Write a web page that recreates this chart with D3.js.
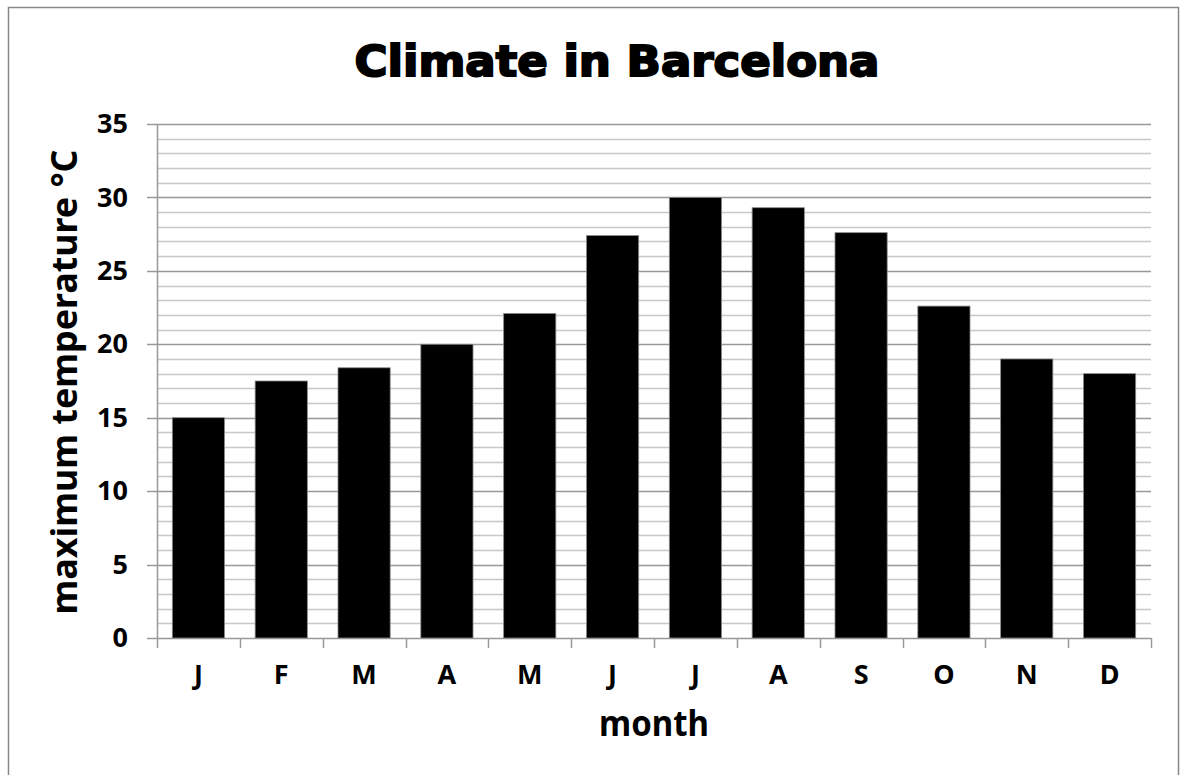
<!DOCTYPE html>
<html>
<head>
<meta charset="utf-8">
<script src="https://cdn.jsdelivr.net/npm/d3@7"></script>
<style>
  body { margin: 0; background: #fff; }
  .axis text { font-family: "Noto Sans", sans-serif; font-weight: bold; font-size: 27px; fill: #000; }
</style>
</head>
<body>
<svg class="chart" width="1180" height="775"></svg>
<script>
const months = ["J", "F", "M", "A", "M", "J", "J", "A", "S", "O", "N", "D"];
const maxTemp = [15, 17.5, 18.4, 20, 22.1, 27.4, 30, 29.3, 27.6, 22.6, 19, 18];
const yTicks = [0, 5, 10, 15, 20, 25, 30, 35];
const yMinor = d3.range(0, 36, 1);

const plotLeft = 157, plotRight = 1151, plotTop = 124, plotBottom = 638;

const svg = d3.select(".chart");

// frame
svg.append("rect")
    .attr("x", 8.5).attr("y", 7.5)
    .attr("width", 1170).attr("height", 800)
    .attr("fill", "none").attr("stroke", "#888").attr("stroke-width", 1.5);

const x = d3.scaleBand()
    .domain(d3.range(months.length))
    .range([plotLeft, plotRight])
    .paddingInner(0.37)
    .paddingOuter(0.185);

const xTicks = d3.scaleBand().domain(d3.range(months.length)).range([plotLeft, plotRight]);

const y = d3.scaleLinear().domain([0, 35]).range([plotBottom, plotTop]);

// minor gridlines
svg.append("g")
    .selectAll("line")
    .data(yMinor.filter(d => d % 5 !== 0))
    .join("line")
    .attr("x1", plotLeft).attr("x2", plotRight)
    .attr("y1", d => Math.round(y(d)) + 0.5).attr("y2", d => Math.round(y(d)) + 0.5)
    .attr("stroke", "#c8c8c8").attr("stroke-width", 1.5);

// major gridlines
svg.append("g")
    .selectAll("line")
    .data(yTicks)
    .join("line")
    .attr("x1", plotLeft - 10).attr("x2", plotRight)
    .attr("y1", d => Math.round(y(d)) + 0.5).attr("y2", d => Math.round(y(d)) + 0.5)
    .attr("stroke", "#999").attr("stroke-width", 1.5);

// y axis
const yAxis = d3.axisLeft(y).tickValues(yTicks).tickSize(0).tickPadding(29);
svg.append("g")
    .attr("class", "axis")
    .attr("transform", `translate(${plotLeft}, 0)`)
    .call(yAxis)
    .call(g => g.select(".domain").attr("stroke", "#999").attr("stroke-width", 1.5));

// x ticks (category boundaries)
svg.append("g")
    .selectAll("line")
    .data(d3.range(months.length + 1))
    .join("line")
    .attr("x1", d => Math.round(plotLeft + d * xTicks.step()) + 0.5)
    .attr("x2", d => Math.round(plotLeft + d * xTicks.step()) + 0.5)
    .attr("y1", plotBottom).attr("y2", plotBottom + 10)
    .attr("stroke", "#999").attr("stroke-width", 1.5);

// x labels
const xAxis = d3.axisBottom(xTicks).tickFormat(i => months[i]).tickSize(0).tickPadding(27);
svg.append("g")
    .attr("class", "axis")
    .attr("transform", `translate(0, ${plotBottom})`)
    .call(xAxis)
    .call(g => g.select(".domain").remove());

// bars
svg.append("g")
    .selectAll("rect")
    .data(maxTemp)
    .join("rect")
    .attr("x", (d, i) => x(i))
    .attr("width", x.bandwidth())
    .attr("y", d => y(d))
    .attr("height", d => y(0) - y(d))
    .attr("fill", "#000")
    .attr("stroke", "#888")
    .attr("stroke-width", 0.8);

// title
svg.append("text")
    .attr("x", 617).attr("y", 76)
    .attr("text-anchor", "middle")
    .attr("textLength", 525)
    .attr("lengthAdjust", "spacingAndGlyphs")
    .style("font-family", "DejaVu Sans, sans-serif")
    .style("font-weight", "900")
    .style("font-size", "43px")
    .style("stroke", "#000").style("stroke-width", 2)
    .text("Climate in Barcelona");

// axis titles
svg.append("text")
    .attr("transform", `translate(77, 382) rotate(-90)`)
    .attr("text-anchor", "middle")
    .attr("textLength", 465)
    .attr("lengthAdjust", "spacingAndGlyphs")
    .style("font-family", "Noto Sans, sans-serif")
    .style("font-weight", "bold")
    .style("font-size", "35px")
    .text("maximum temperature °C");

svg.append("text")
    .attr("x", 654).attr("y", 736)
    .attr("text-anchor", "middle")
    .attr("textLength", 110)
    .attr("lengthAdjust", "spacingAndGlyphs")
    .style("font-family", "Noto Sans, sans-serif")
    .style("font-weight", "bold")
    .style("font-size", "35px")
    .text("month");
</script>
</body>
</html>
